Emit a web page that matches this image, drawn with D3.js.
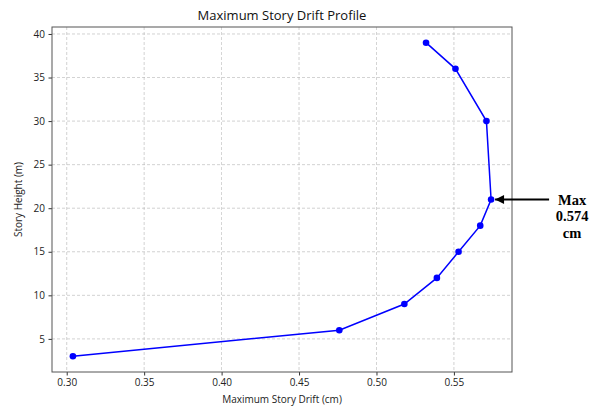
<!DOCTYPE html>
<html><head><meta charset="utf-8">
<script src="https://cdn.jsdelivr.net/npm/d3@7"></script>
<style>body{margin:0;background:#fff}svg{display:block}</style>
</head><body><svg id="c" width="605" height="407"></svg>
<script>
const drift = [0.304, 0.476, 0.518, 0.539, 0.553, 0.567, 0.574, 0.571, 0.551, 0.532];
const height = [3, 6, 9, 12, 15, 18, 21, 30, 36, 39];
const xTicks = [0.30, 0.35, 0.40, 0.45, 0.50, 0.55];
const yTicks = [5, 10, 15, 20, 25, 30, 35, 40];
const maxDrift = 0.574, maxHeight = 21;

const svg = d3.select("#c");
const L = 52, R = 512, T = 27, B = 372;
const font = "'Open Sans', Roboto, sans-serif";
const x = d3.scaleLinear().domain([0.2905, 0.5875]).range([L, R]);
const y = d3.scaleLinear().domain([1.2, 40.8]).range([B, T]);

// grid
svg.append("g").selectAll("line").data(xTicks).join("line")
  .attr("x1", d => x(d)).attr("x2", d => x(d)).attr("y1", T).attr("y2", B)
  .attr("stroke", "#b0b0b0").attr("stroke-width", 0.8).attr("stroke-dasharray", "3,2").attr("opacity", 0.7);
svg.append("g").selectAll("line").data(yTicks).join("line")
  .attr("y1", d => y(d)).attr("y2", d => y(d)).attr("x1", L).attr("x2", R)
  .attr("stroke", "#b0b0b0").attr("stroke-width", 0.8).attr("stroke-dasharray", "3,2").attr("opacity", 0.7);

// axes
const xa = svg.append("g").attr("transform", `translate(0,${B})`)
  .call(d3.axisBottom(x).tickValues(xTicks).tickFormat(d3.format(".2f")).tickSize(3.5).tickPadding(3.5));
const ya = svg.append("g").attr("transform", `translate(${L},0)`)
  .call(d3.axisLeft(y).tickValues(yTicks).tickFormat(d3.format("d")).tickSize(3.5).tickPadding(3.5));
[xa, ya].forEach(a => {
  a.select(".domain").remove();
  a.selectAll("line").attr("stroke", "#333");
  a.selectAll("text").attr("font-family", font).attr("font-size", 10).attr("fill", "#222");
});

// frame
svg.append("rect").attr("x", L).attr("y", T).attr("width", R - L).attr("height", B - T)
  .attr("fill", "none").attr("stroke", "#555").attr("stroke-width", 1);

// line + markers
svg.append("path").datum(drift.map((d, i) => [d, height[i]]))
  .attr("d", d3.line().x(d => x(d[0])).y(d => y(d[1])))
  .attr("fill", "none").attr("stroke", "#0000ff").attr("stroke-width", 1.5);
svg.append("g").selectAll("circle").data(drift.map((d, i) => [d, height[i]])).join("circle")
  .attr("cx", d => x(d[0])).attr("cy", d => y(d[1])).attr("r", 3.3).attr("fill", "#0000ff");

// title and labels
svg.append("text").attr("x", (L + R) / 2).attr("y", 20).attr("text-anchor", "middle")
  .attr("font-family", font).attr("font-size", 13).attr("fill", "#111").text("Maximum Story Drift Profile");
svg.append("text").attr("x", (L + R) / 2).attr("y", 403).attr("text-anchor", "middle")
  .attr("font-family", font).attr("font-size", 10).attr("fill", "#222").text("Maximum Story Drift (cm)");
svg.append("text").attr("transform", `translate(22,${(T + B) / 2}) rotate(-90)`).attr("text-anchor", "middle")
  .attr("font-family", font).attr("font-size", 10).attr("fill", "#222").text("Story Height (m)");

// annotation
const px = x(maxDrift), py = y(maxHeight);
svg.append("defs").append("marker").attr("id", "ah").attr("viewBox", "0 0 10 10")
  .attr("refX", 10).attr("refY", 5).attr("markerWidth", 14).attr("markerHeight", 9)
  .attr("markerUnits", "userSpaceOnUse").attr("orient", "auto")
  .append("path").attr("d", "M0,0 L10,5 L0,10 Z").attr("fill", "#000");
svg.append("line").attr("x1", px + 58).attr("y1", py).attr("x2", px + 4).attr("y2", py)
  .attr("stroke", "#000").attr("stroke-width", 1.8).attr("marker-end", "url(#ah)");
const ann = svg.append("text").attr("text-anchor", "middle")
  .attr("font-family", "'Liberation Serif', 'Times New Roman', serif").attr("font-weight", "bold")
  .attr("font-size", 14.5).attr("fill", "#000");
["Max", "0.574", "cm"].forEach((t, i) =>
  ann.append("tspan").attr("x", px + 81).attr("y", py + 5 + i * 16.5).text(t));
</script></body></html>
